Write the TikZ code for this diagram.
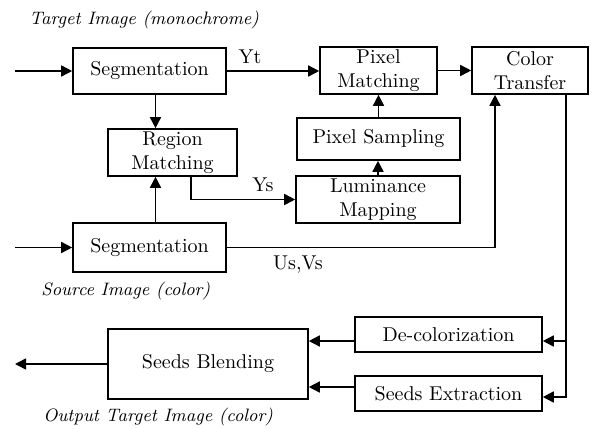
\documentclass[tikz,border=0pt]{standalone}
\usetikzlibrary{arrows.meta,calc}
\tikzset{
  procbox/.style={draw, line width=0.8pt, inner sep=1pt, align=center, font=\normalsize},
  flowarrow/.style={-{Triangle[length=5.5pt, width=5.5pt]}, line width=0.8pt},
  imglabel/.style={font=\small\itshape, anchor=west, inner sep=0pt},
  siglabel/.style={font=\normalsize, inner sep=1pt}
}

\begin{document}
\begin{tikzpicture}[x=0.5pt, y=-0.5pt]
  \useasboundingbox (0,0) rectangle (593,428);
  % image labels
  \node[imglabel] (tgtimg) at (29,20) {Target Image (monochrome)};
  \node[imglabel] (srcimg) at (41,291) {Source Image (color)};
  \node[imglabel] (outimg) at (43,417) {Output Target Image (color)};
  % processing blocks
  \node[procbox, minimum width=76.5pt, minimum height=23pt] (segT) at (149.5,71) {Segmentation};
  \node[procbox, minimum width=64.5pt, minimum height=23.5pt] (region) at (172.5,152.5) {Region\\Matching};
  \node[procbox, minimum width=76.5pt, minimum height=24.5pt] (segS) at (149.5,247.5) {Segmentation};
  \node[procbox, minimum width=58.5pt, minimum height=23.5pt] (pixm) at (378.5,70.5) {Pixel\\Matching};
  \node[procbox, minimum width=58pt, minimum height=23.5pt] (colt) at (530,70.5) {Color\\Transfer};
  \node[procbox, minimum width=81.5pt, minimum height=21pt] (pixs) at (378.5,139) {Pixel Sampling};
  \node[procbox, minimum width=82pt, minimum height=23.5pt] (lum) at (378,199.5) {Luminance\\Mapping};
  \node[procbox, minimum width=93.5pt, minimum height=17.5pt] (decol) at (448.5,334.5) {De-colorization};
  \node[procbox, minimum width=93.5pt, minimum height=17.5pt] (seedx) at (448.5,393.5) {Seeds Extraction};
  \node[procbox, minimum width=100pt, minimum height=35pt] (blend) at (208,364) {Seeds Blending};
  % free ends
  \coordinate (inT) at (15,71);
  \coordinate (inS) at (15,247.5);
  \coordinate (outB) at (15,364);
  % signal labels
  \node[siglabel] (yt) at (250,57) {Yt};
  \node[siglabel] (ys) at (263,185) {Ys};
  \node[siglabel] (usvs) at (298,265) {Us,Vs};

  \draw[flowarrow] (inT) -- (segT.west);
  \draw[flowarrow] (inS) -- (segS.west);
  \draw[flowarrow] (segT.east) -- (segT.east -| pixm.west);
  \draw[flowarrow] ([xshift=3pt]segT.south) -- ([xshift=3pt]segT.south |- region.north);
  \draw[flowarrow] ([xshift=3pt]segS.north) -- ([xshift=3pt]segS.north |- region.south);
  \draw[flowarrow] ([xshift=9.25pt]region.south) |- (lum.west);
  \draw[flowarrow] (lum.north) -- (lum.north |- pixs.south);
  \draw[flowarrow] (pixs.north) -- (pixs.north |- pixm.south);
  \draw[flowarrow] (pixm.east) -- (pixm.east -| colt.west);
  \draw[flowarrow] (segS.east) -| ([xshift=-17.5pt]colt.south);
  \draw[flowarrow] ([xshift=18pt]colt.south) |- ([yshift=-3.25pt]decol.east);
  \draw[flowarrow] ([xshift=18pt]colt.south) |- ([yshift=-1.75pt]seedx.east);
  \draw[flowarrow] ([yshift=-3.25pt]decol.west) -- ([yshift=-3.25pt]decol.west -| blend.east);
  \draw[flowarrow] ([yshift=3.25pt]seedx.west) -- ([yshift=3.25pt]seedx.west -| blend.east);
  \draw[flowarrow] (blend.west) -- (outB);
\end{tikzpicture}
\end{document}
